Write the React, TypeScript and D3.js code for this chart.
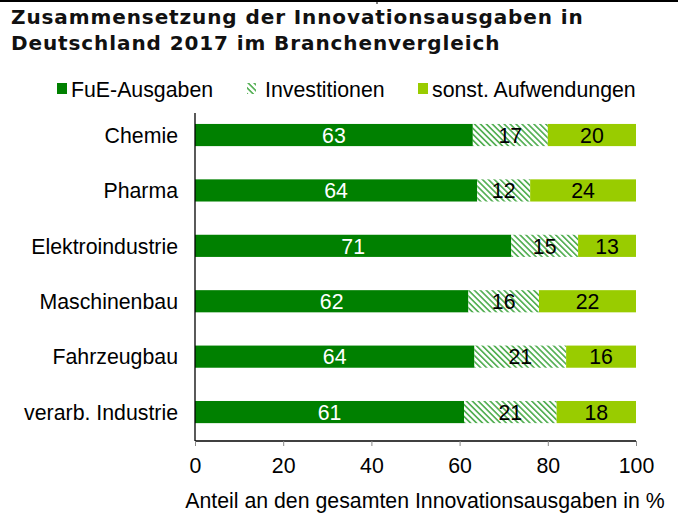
import React, { useEffect, useRef } from 'react';
import * as d3 from 'd3';

// Branchen und Anteile (in %) je Ausgabenart
const branchen = ['Chemie', 'Pharma', 'Elektroindustrie', 'Maschinenbau', 'Fahrzeugbau', 'verarb. Industrie'];
const fueAusgaben = [63, 64, 71, 62, 64, 61];
const investitionen = [17, 12, 15, 16, 21, 21];
const sonstAufwendungen = [20, 24, 13, 22, 16, 18];
const serien = ['FuE-Ausgaben', 'Investitionen', 'sonst. Aufwendungen'];
const xTicks = [0, 20, 40, 60, 80, 100];

const App = () => {
  const chartRef = useRef<SVGSVGElement | null>(null);

  useEffect(() => {
    const width = 678, height = 513;
    const margin = { top: 113, right: 42, bottom: 72, left: 195 };
    const font = 'Liberation Sans, Arial, sans-serif';
    const fs = 21.3;

    const svg = d3.select(chartRef.current);
    svg.selectAll('*').remove();
    svg.attr('width', width).attr('height', height);

    // Schraffur für Investitionen
    const defs = svg.append('defs');
    const pat = defs.append('pattern')
      .attr('id', 'hatch')
      .attr('patternUnits', 'userSpaceOnUse')
      .attr('width', 4.2)
      .attr('height', 4.2)
      .attr('patternTransform', 'rotate(-45)');
    pat.append('rect').attr('width', 4.2).attr('height', 4.2).attr('fill', '#fff');
    pat.append('rect').attr('x', 0).attr('width', 1.7).attr('height', 4.2).attr('fill', '#56b056');

    const colors = ['#008000', 'url(#hatch)', '#99cc00'];

    // Linie oben
    svg.append('line')
      .attr('x1', 0).attr('x2', width).attr('y1', 1).attr('y2', 1)
      .attr('stroke', '#000').attr('stroke-width', 2);
    svg.append('line')
      .attr('x1', 377).attr('x2', 377).attr('y1', 0).attr('y2', 4)
      .attr('stroke', '#000').attr('stroke-width', 1);

    // Titel
    const title = svg.append('text')
      .attr('font-family', 'DejaVu Sans, Verdana, sans-serif')
      .attr('font-weight', 'bold')
      .attr('font-size', 20)
      .attr('letter-spacing', 0.9)
      .attr('fill', '#111');
    title.append('tspan').attr('x', 11).attr('y', 24).text('Zusammensetzung der Innovationsausgaben in');
    title.append('tspan').attr('x', 11).attr('y', 50).text('Deutschland 2017 im Branchenvergleich');

    // Legende
    const legendX = [57, 247, 418];
    serien.forEach((s, i) => {
      const g = svg.append('g').attr('transform', `translate(${legendX[i]},83)`);
      if (i === 1) {
        g.append('rect').attr('width', 9).attr('height', 11).attr('fill', 'url(#hatch)');
      } else {
        g.append('rect').attr('width', 10).attr('height', 11).attr('fill', colors[i]);
      }
      g.append('text')
        .attr('x', i === 1 ? 18 : 14)
        .attr('y', 6)
        .attr('dy', '0.36em')
        .attr('font-family', font)
        .attr('font-size', fs)
        .attr('fill', '#000')
        .text(s);
    });

    const innerW = width - margin.left - margin.right;
    const innerH = height - margin.top - margin.bottom;

    const x = d3.scaleLinear().domain([0, 100]).range([0, innerW]);
    const y = d3.scaleBand().domain(branchen).range([0, innerH])
      .paddingInner(0.6).paddingOuter(0.26).align(0.38);

    const g = svg.append('g').attr('transform', `translate(${margin.left},${margin.top})`);

    // Anteile je Branche auf 100 % normiert
    const rows = branchen.map((b, i) => {
      const vals = [fueAusgaben[i], investitionen[i], sonstAufwendungen[i]];
      const total = d3.sum(vals);
      let acc = 0;
      return vals.map((v, k) => {
        const start = (acc / total) * 100;
        acc += v;
        const end = (acc / total) * 100;
        return { branche: b, k, v, start, end };
      });
    });

    rows.forEach(segs => {
      segs.forEach(d => {
        g.append('rect')
          .attr('x', x(d.start))
          .attr('y', y(d.branche)!)
          .attr('width', x(d.end) - x(d.start))
          .attr('height', y.bandwidth())
          .attr('fill', colors[d.k]);
        g.append('text')
          .attr('x', (x(d.start) + x(d.end)) / 2)
          .attr('y', y(d.branche)! + y.bandwidth() / 2)
          .attr('dy', '0.36em')
          .attr('text-anchor', 'middle')
          .attr('font-family', font)
          .attr('font-size', fs)
          .attr('fill', d.k === 0 ? '#fff' : '#000')
          .text(d.v);
      });
    });

    // Branchenbeschriftung
    g.selectAll('.cat')
      .data(branchen)
      .enter()
      .append('text')
      .attr('x', -17)
      .attr('y', d => y(d)! + y.bandwidth() / 2)
      .attr('dy', '0.36em')
      .attr('text-anchor', 'end')
      .attr('font-family', font)
      .attr('font-size', fs)
      .attr('fill', '#000')
      .text(d => d);

    // Y-Achse
    g.append('line')
      .attr('x1', 0).attr('x2', 0).attr('y1', 0).attr('y2', innerH)
      .attr('stroke', '#000').attr('stroke-width', 1.3);

    // X-Achse
    const xAxis = g.append('g')
      .attr('transform', `translate(0,${innerH})`)
      .call(d3.axisBottom(x).tickValues(xTicks).tickSize(5).tickPadding(12).tickFormat(d3.format('d')));
    xAxis.select('.domain').attr('stroke', '#000').attr('stroke-width', 1.3).attr('d', `M0,0H${innerW}`);
    xAxis.selectAll('.tick line').attr('stroke', '#888');
    xAxis.selectAll('.tick text')
      .attr('font-family', font)
      .attr('font-size', fs)
      .attr('fill', '#000');

    // Achsentitel
    svg.append('text')
      .attr('x', 425)
      .attr('y', 508)
      .attr('text-anchor', 'middle')
      .attr('font-family', font)
      .attr('font-size', fs)
      .attr('fill', '#000')
      .text('Anteil an den gesamten Innovationsausgaben in %');
  }, []);

  return <svg ref={chartRef} style={{ position: 'absolute', left: 0, top: 0, background: '#fff' }}></svg>;
};

export default App;
